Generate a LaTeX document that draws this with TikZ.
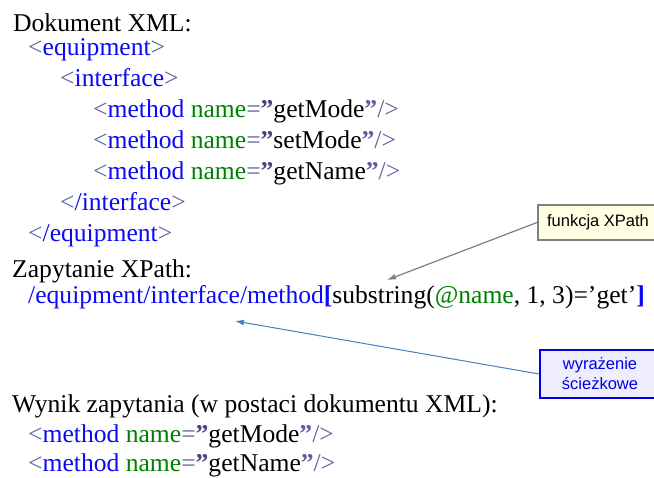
\documentclass[tikz,border=0pt]{standalone}
\usepackage{fontspec}
\setmainfont{Liberation Serif}
\newfontfamily\arialf{Liberation Sans}
\usetikzlibrary{arrows.meta}
\definecolor{tagc}{RGB}{10,10,245}
\definecolor{brkc}{RGB}{95,95,160}
\definecolor{qc}{RGB}{70,70,120}
\definecolor{attc}{RGB}{0,128,0}
\definecolor{graybd}{RGB}{128,128,128}
\definecolor{yelfill}{RGB}{255,255,228}
\definecolor{lavfill}{RGB}{238,238,255}
\definecolor{arrblue}{RGB}{79,129,189}
\definecolor{boxblue}{RGB}{0,0,230}
\newcommand\xlt{\textcolor{brkc}{<}}
\newcommand\xgt{\textcolor{brkc}{>}}
\newcommand\xtag[1]{\textcolor{tagc}{#1}}
\newcommand\xmeth[1]{\xlt\xtag{method} \textcolor{attc}{name}\textcolor{brkc}{=}\textcolor{qc}{\bfseries ”}#1\textcolor{brkc}{\textbf{”}/>}}
\begin{document}
\begin{tikzpicture}[x=1pt,y=-1pt,
  txt/.style={anchor=base west,inner sep=0pt,font=\fontsize{25.6}{30}\selectfont},
  callout/.style={draw,line width=2pt,inner sep=0pt,align=center,font=\arialf\fontsize{16.5}{20}\selectfont},
  conn/.style={-{Latex[length=9pt,width=6pt]}}]
\useasboundingbox (0,0) rectangle (654,478);
\clip (0,0) rectangle (654,478);
\fill[white] (0,0) rectangle (654,478);
% XML document
\node[txt] (t1) at (13,32) {Dokument XML:};
\node[txt] (l1) at (28,56) {\xlt\xtag{equipment}\xgt};
\node[txt] (l2) at (60,87) {\xlt\xtag{interface}\xgt};
\node[txt] (l3) at (93,118) {\xmeth{getMode}};
\node[txt] (l4) at (93,149) {\xmeth{setMode}};
\node[txt] (l5) at (93,180) {\xmeth{getName}};
\node[txt] (l6) at (60,211) {\xlt\xtag{/interface}\xgt};
\node[txt] (l7) at (28,242) {\xlt\xtag{/equipment}\xgt};
% XPath query
\node[txt] (t2) at (12,278) {Zapytanie XPath:};
\node[txt] (xp) at (28,304) {\xtag{/equipment/interface/method}\textcolor{tagc}{\bfseries[}substring(\textcolor{attc}{@name}, 1, 3)=’get’\textcolor{tagc}{\bfseries]}};
% Result
\node[txt] (t3) at (12,413) {Wynik zapytania (w postaci dokumentu XML):};
\node[txt] (r1) at (28,443) {\xmeth{getMode}};
\node[txt] (r2) at (28,472) {\xmeth{getName}};
% callouts
\node[callout,draw=graybd,fill=yelfill,minimum width=120pt,minimum height=35pt] (fn) at (598,222.5) {funkcja XPath};
\node[callout,draw=boxblue,fill=lavfill,text=boxblue,minimum width=120pt,minimum height=48pt] (we) at (600,374) {wyrażenie\\ścieżkowe};
\coordinate (fnend) at (387,280);
\coordinate (weend) at (235,321);
\draw[conn,draw=graybd,fill=graybd,line width=1.2pt] (fn.west) -- (fnend);
\draw[conn,draw=arrblue,fill=arrblue,line width=1pt] (we.west) -- (weend);
\end{tikzpicture}
\end{document}
